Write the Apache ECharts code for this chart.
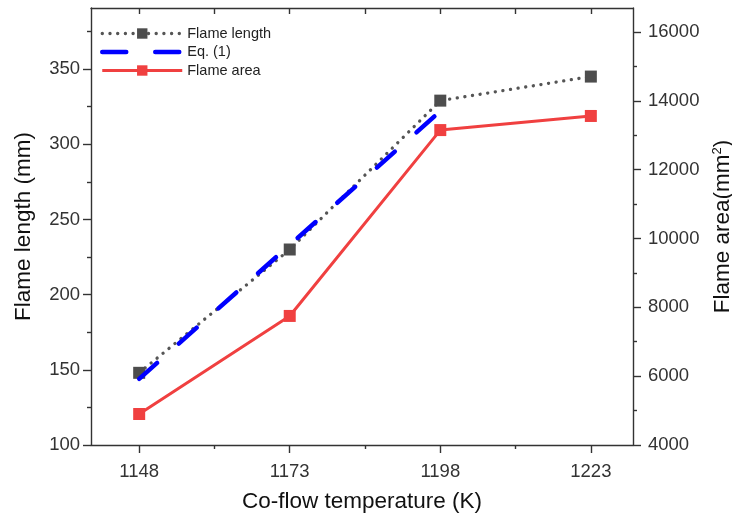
<!DOCTYPE html>
<html>
<head>
<meta charset="utf-8">
<script src="https://cdn.jsdelivr.net/npm/echarts@6/dist/echarts.min.js"></script>
<style>
  html, body { margin: 0; padding: 0; background: #fff; }
  #chart { width: 732px; height: 520px; }
</style>
</head>
<body>
<div id="chart"></div>
<script>
// Co-flow temperatures (K)
const temperatures = [1148, 1173, 1198, 1223];
// Measured flame length (mm), left axis
const flameLength = [148, 230, 329, 345];
// Measured flame area (mm^2), right axis
const flameArea = [4900, 7750, 13150, 13560];
// Flame length predicted by Eq. (1) (mm)
const eqTemps = [1148, 1173, 1198];
const eqLength = [144, 233, 322];

// Tick positions
const tempMinorTicks = [1160.5, 1185.5, 1210.5];
const lengthTicks = [100, 150, 200, 250, 300, 350];
const lengthMinorTicks = [125, 175, 225, 275, 325, 375];
const areaTicks = [4000, 6000, 8000, 10000, 12000, 14000, 16000];
const areaMinorTicks = [5000, 7000, 9000, 11000, 13000, 15000];

const FONT = '"Liberation Sans", Arial, sans-serif';
const AXIS_COLOR = '#333';
const LABEL_COLOR = '#333';
const TITLE_COLOR = '#111';
const TICK_FONT = 18.5;
const TITLE_FONT = 22.5;

const xRange = { min: 1140, max: 1230 };
const lengthRange = { min: 100, max: 390.6 };
const areaRange = { min: 4000, max: 16697 };

const zip = (xs, ys) => xs.map((x, i) => [x, ys[i]]);
const plain = v => String(v);

// line styles shared by series and legend
const lengthLine = { color: '#555', width: 3.3, type: [0.1, 7.6], cap: 'round' };
const eqLine = { color: '#0000ff', width: 4.5, type: [24, 29], cap: 'round' };
const areaLine = { color: '#f04040', width: 3 };

const chart = echarts.init(document.getElementById('chart'), null, { renderer: 'canvas' });

const lineAxis = { show: true, onZero: false, lineStyle: { color: AXIS_COLOR, width: 1.4 } };
const noLine = { show: false };
const noLabel = { show: false };

chart.setOption({
  animation: false,
  backgroundColor: '#fff',
  grid: { left: 91, right: 99, top: 8, bottom: 75, containLabel: false, outerBoundsMode: 'none' },
  legend: {
    orient: 'vertical',
    left: 100,
    top: 26,
    padding: 0,
    itemWidth: 80,
    itemHeight: 13,
    itemGap: 3.5,
    textStyle: { fontFamily: FONT, fontSize: 14.5, color: '#222', lineHeight: 14 },
    data: [
      { name: 'Flame length', lineStyle: lengthLine },
      { name: 'Eq. (1)', lineStyle: eqLine, itemStyle: { opacity: 0 } },
      { name: 'Flame area', lineStyle: areaLine }
    ]
  },
  xAxis: [
    {
      type: 'value', position: 'bottom', ...xRange,
      axisLine: lineAxis,
      axisTick: { show: true, inside: false, length: 8, customValues: temperatures,
                  lineStyle: { color: AXIS_COLOR, width: 1.4 } },
      axisLabel: { customValues: temperatures, formatter: plain, fontFamily: FONT, fontSize: TICK_FONT,
                   color: LABEL_COLOR, margin: 17 },
      splitLine: { show: false },
      name: 'Co-flow temperature (K)', nameLocation: 'middle', nameGap: 45,
      nameTextStyle: { fontFamily: FONT, fontSize: TITLE_FONT, color: TITLE_COLOR }
    },
    {
      // minor ticks along the bottom edge
      type: 'value', position: 'bottom', ...xRange,
      axisLine: noLine, axisLabel: noLabel, splitLine: { show: false },
      axisTick: { show: true, inside: false, length: 4, customValues: tempMinorTicks,
                  lineStyle: { color: AXIS_COLOR, width: 1.4 } }
    },
    {
      // top frame edge with inward ticks
      type: 'value', position: 'top', ...xRange,
      axisLine: lineAxis, axisLabel: noLabel, splitLine: { show: false },
      axisTick: { show: true, inside: true, length: 6,
                  customValues: [1148, 1160.5, 1173, 1185.5, 1198, 1210.5, 1223],
                  lineStyle: { color: AXIS_COLOR, width: 1.4 } }
    }
  ],
  yAxis: [
    {
      type: 'value', position: 'left', ...lengthRange,
      axisLine: lineAxis,
      axisTick: { show: true, inside: false, length: 8, customValues: lengthTicks,
                  lineStyle: { color: AXIS_COLOR, width: 1.4 } },
      axisLabel: { customValues: lengthTicks, formatter: plain, fontFamily: FONT, fontSize: TICK_FONT,
                   color: LABEL_COLOR, margin: 11 },
      splitLine: { show: false },
      name: 'Flame length (mm)', nameLocation: 'middle', nameGap: 56, nameRotate: 90,
      nameTextStyle: { fontFamily: FONT, fontSize: TITLE_FONT, color: TITLE_COLOR }
    },
    {
      type: 'value', position: 'right', ...areaRange,
      axisLine: lineAxis,
      axisTick: { show: true, inside: false, length: 8, customValues: areaTicks,
                  lineStyle: { color: AXIS_COLOR, width: 1.4 } },
      axisLabel: { customValues: areaTicks, formatter: plain, fontFamily: FONT, fontSize: TICK_FONT,
                   color: LABEL_COLOR, margin: 15 },
      splitLine: { show: false },
      name: 'Flame area(mm{sup|2})', nameLocation: 'middle', nameGap: 78, nameRotate: 90,
      nameTextStyle: {
        fontFamily: FONT, fontSize: TITLE_FONT, color: TITLE_COLOR,
        rich: { sup: { fontFamily: FONT, fontSize: 13, color: TITLE_COLOR, padding: [0, 0, 10, 0] } }
      }
    },
    {
      // minor ticks, left
      type: 'value', position: 'left', ...lengthRange,
      axisLine: noLine, axisLabel: noLabel, splitLine: { show: false },
      axisTick: { show: true, inside: false, length: 4, customValues: lengthMinorTicks,
                  lineStyle: { color: AXIS_COLOR, width: 1.4 } }
    },
    {
      // minor ticks, right
      type: 'value', position: 'right', ...areaRange,
      axisLine: noLine, axisLabel: noLabel, splitLine: { show: false },
      axisTick: { show: true, inside: false, length: 4, customValues: areaMinorTicks,
                  lineStyle: { color: AXIS_COLOR, width: 1.4 } }
    }
  ],
  series: [
    {
      name: 'Flame length',
      type: 'line',
      xAxisIndex: 0, yAxisIndex: 0,
      data: zip(temperatures, flameLength),
      symbol: 'rect', symbolSize: 12,
      itemStyle: { color: '#4d4d4d' },
      lineStyle: lengthLine,
      z: 2
    },
    {
      name: 'Eq. (1)',
      type: 'line',
      xAxisIndex: 0, yAxisIndex: 0,
      data: zip(eqTemps, eqLength),
      symbol: 'none',
      itemStyle: { color: '#0000ff' },
      lineStyle: eqLine,
      z: 3
    },
    {
      name: 'Flame area',
      type: 'line',
      xAxisIndex: 0, yAxisIndex: 1,
      data: zip(temperatures, flameArea),
      symbol: 'rect', symbolSize: 12,
      itemStyle: { color: '#f04040' },
      lineStyle: areaLine,
      z: 2
    }
  ]
});
</script>
</body>
</html>
